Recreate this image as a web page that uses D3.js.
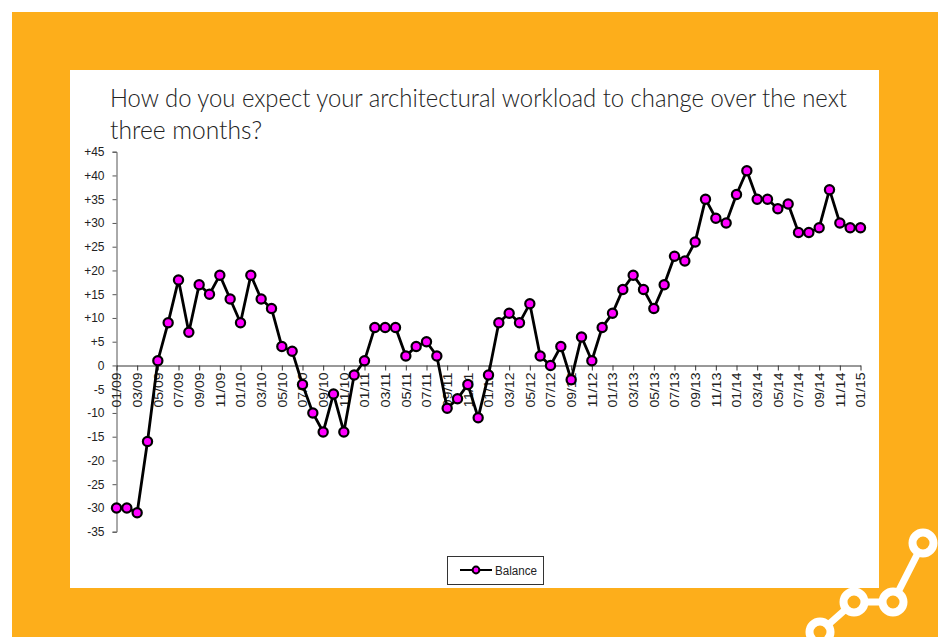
<!DOCTYPE html>
<html><head><meta charset="utf-8">
<script src="https://cdn.jsdelivr.net/npm/d3@7/dist/d3.min.js"></script>
<style>html,body{margin:0;padding:0;background:#fff}svg{display:block}</style>
</head><body><svg id="c" width="944" height="637"></svg>
<script>
const tickLabels = ["01/09","03/09","05/09","07/09","09/09","11/09","01/10","03/10","05/10","07/10","09/10","11/10","01/11","03/11","05/11","07/11","09/11","11/11","01/12","03/12","05/12","07/12","09/12","11/12","01/13","03/13","05/13","07/13","09/13","11/13","01/14","03/14","05/14","07/14","09/14","11/14","01/15"];
const balance = [-30,-30,-31,-16,1,9,18,7,17,15,19,14,9,19,14,12,4,3,-4,-10,-14,-6,-14,-2,1,8,8,8,2,4,5,2,-9,-7,-4,-11,-2,9,11,9,13,2,0,4,-3,6,1,8,11,16,19,16,12,17,23,22,26,35,31,30,36,41,35,35,33,34,28,28,29,37,30,29,29];
const yTicks = [45,40,35,30,25,20,15,10,5,0,-5,-10,-15,-20,-25,-30,-35];
const titleLines = ["How do you expect your architectural workload to change over the next","three months?"];
const titleWidths = [737,152];
const seriesName = "Balance";

const svg = d3.select("#c");
const orange = "#fdae1b";
svg.append("rect").attr("x",12).attr("y",12).attr("width",926).attr("height",625).attr("fill",orange);
svg.append("rect").attr("x",70).attr("y",70).attr("width",809).attr("height",518).attr("fill","#fff");

// logo
const logo = svg.append("g");
const nodes = [[820,632],[854,602],[893,602],[923,543]];
logo.append("path").attr("d",d3.line()(nodes)).attr("fill","none").attr("stroke","#fff").attr("stroke-width",7);
logo.selectAll("circle").data(nodes).join("circle").attr("cx",d=>d[0]).attr("cy",d=>d[1]).attr("r",10.5)
  .attr("fill",orange).attr("stroke","#fff").attr("stroke-width",8);

// title
svg.append("g").selectAll("text").data(titleLines).join("text")
  .attr("x",110).attr("y",(d,i)=>107+i*32).text(d=>d)
  .attr("textLength",(d,i)=>titleWidths[i]).attr("lengthAdjust","spacingAndGlyphs")
  .attr("font-family","Lato").attr("font-weight",300).attr("font-size",25).attr("fill","#222");

const x = d3.scaleLinear().domain([0,balance.length-1]).range([116.5,860.5]);
const y = d3.scaleLinear().domain([-35,45]).range([531.7,151.7]);
const font = "'Liberation Sans',Arial,sans-serif";

// y axis
const ga = svg.append("g").attr("transform","translate(116.5,0)")
  .call(d3.axisLeft(y).tickValues(yTicks).tickSize(4).tickPadding(8)
    .tickFormat(d=>d>0?"+"+d:String(d)));
ga.selectAll("text").attr("font-family",font).attr("font-size",12).attr("fill","#222");
ga.selectAll("line,path").attr("stroke","#555");

// x axis
const tickIdx = tickLabels.map((d,i)=>i*2);
const gx = svg.append("g").attr("transform",`translate(0,${Math.floor(y(0))+.5})`)
  .call(d3.axisBottom(x).tickValues(tickIdx).tickSize(5).tickSizeOuter(0).tickFormat(d=>tickLabels[d/2]));
gx.selectAll("line,path").attr("stroke","#333");
gx.selectAll("text").attr("font-family",font).attr("font-size",12).attr("fill","#222")
  .attr("text-anchor","end").attr("transform","rotate(-90)").attr("x",-7).attr("y",0).attr("dy","0.35em")
  .attr("textLength",35).attr("lengthAdjust","spacingAndGlyphs");

// series
svg.append("path").attr("d",d3.line().x((d,i)=>x(i)).y(d=>y(d))(balance))
  .attr("fill","none").attr("stroke","#000").attr("stroke-width",2.8);
svg.append("g").selectAll("circle").data(balance).join("circle")
  .attr("cx",(d,i)=>x(i)).attr("cy",d=>y(d)).attr("r",4.6)
  .attr("fill","#ff00ff").attr("stroke","#000").attr("stroke-width",2.2);

// legend
const lg = svg.append("g");
lg.append("rect").attr("x",447.5).attr("y",556.5).attr("width",96).attr("height",28).attr("fill","#fff").attr("stroke","#333");
lg.append("line").attr("x1",460).attr("x2",492).attr("y1",570).attr("y2",570).attr("stroke","#000").attr("stroke-width",2);
lg.append("circle").attr("cx",476).attr("cy",570).attr("r",3.4).attr("fill","#ff00ff").attr("stroke","#000").attr("stroke-width",2);
lg.append("text").attr("x",495).attr("y",574.5).text(seriesName).attr("font-family",font).attr("font-size",12).attr("textLength",42).attr("lengthAdjust","spacingAndGlyphs").attr("fill","#222");
</script></body></html>
